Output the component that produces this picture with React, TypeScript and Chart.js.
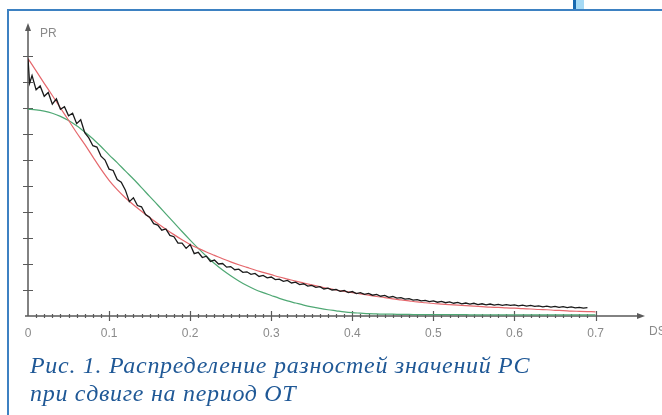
import React, { useEffect, useRef } from "react";
import { Chart, registerables } from "chart.js";

Chart.register(...registerables);

// ---- data ----
const CURVE_X = [
  0, 0.01, 0.02, 0.03, 0.04, 0.05, 0.06, 0.07, 0.08, 0.09,
  0.1, 0.11, 0.12, 0.13, 0.14, 0.15, 0.16, 0.17, 0.18, 0.19,
  0.2, 0.21, 0.22, 0.23, 0.24, 0.25, 0.26, 0.27, 0.28, 0.29,
  0.3, 0.31, 0.32, 0.33, 0.34, 0.35, 0.36, 0.37, 0.38, 0.39,
  0.4, 0.41, 0.42, 0.43, 0.44, 0.45, 0.46, 0.47, 0.48, 0.49,
  0.5, 0.51, 0.52, 0.53, 0.54, 0.55, 0.56, 0.57, 0.58, 0.59,
  0.6, 0.61, 0.62, 0.63, 0.64, 0.65, 0.66, 0.67, 0.68, 0.69, 0.7,
];

const RED_FIT = [
  9.9, 9.43, 8.95, 8.48, 8.0, 7.53, 7.05, 6.6, 6.12, 5.65,
  5.22, 4.86, 4.55, 4.28, 4.03, 3.79, 3.56, 3.34, 3.13, 2.93,
  2.75, 2.6, 2.46, 2.33, 2.2, 2.08, 1.97, 1.87, 1.77, 1.68,
  1.59, 1.5, 1.42, 1.34, 1.27, 1.2, 1.13, 1.06, 1.0, 0.95,
  0.9, 0.85, 0.8, 0.75, 0.71, 0.66, 0.62, 0.58, 0.54, 0.51,
  0.48, 0.46, 0.44, 0.42, 0.4, 0.38, 0.36, 0.34, 0.33, 0.31,
  0.3, 0.28, 0.27, 0.25, 0.24, 0.22, 0.21, 0.19, 0.18, 0.17, 0.16,
];

const GREEN_FIT = [
  7.95, 7.93, 7.88, 7.8, 7.68, 7.52, 7.32, 7.08, 6.82, 6.52,
  6.2, 5.9, 5.58, 5.27, 4.94, 4.6, 4.27, 3.93, 3.59, 3.25,
  2.92, 2.6, 2.3, 2.02, 1.77, 1.55, 1.35, 1.17, 1.02, 0.9,
  0.79, 0.68, 0.58, 0.5, 0.42, 0.35, 0.29, 0.24, 0.2, 0.16,
  0.13, 0.11, 0.09, 0.08, 0.07, 0.07, 0.06, 0.06, 0.05, 0.05,
  0.05, 0.05, 0.05, 0.05, 0.05, 0.04, 0.04, 0.04, 0.04, 0.04,
  0.04, 0.04, 0.04, 0.04, 0.04, 0.04, 0.04, 0.04, 0.04, 0.04, 0.04,
];

const MEASURED_X = [
  0, 0.002, 0.005, 0.01, 0.015, 0.02, 0.025, 0.03, 0.035, 0.04, 0.045,
  0.05, 0.055, 0.06, 0.065, 0.07, 0.075, 0.08, 0.085, 0.09, 0.095,
  0.1, 0.105, 0.11, 0.115, 0.12, 0.125, 0.13, 0.135, 0.14, 0.145,
  0.15, 0.155, 0.16, 0.165, 0.17, 0.175, 0.18, 0.185, 0.19, 0.195,
  0.2, 0.205, 0.21, 0.215, 0.22, 0.225, 0.23, 0.235, 0.24, 0.245,
  0.25, 0.255, 0.26, 0.265, 0.27, 0.275, 0.28, 0.285, 0.29, 0.295,
  0.3, 0.305, 0.31, 0.315, 0.32, 0.325, 0.33, 0.335, 0.34, 0.345,
  0.35, 0.355, 0.36, 0.365, 0.37, 0.375, 0.38, 0.385, 0.39, 0.395,
  0.4, 0.405, 0.41, 0.415, 0.42, 0.425, 0.43, 0.435, 0.44, 0.445,
  0.45, 0.455, 0.46, 0.465, 0.47, 0.475, 0.48, 0.485, 0.49, 0.495,
  0.5, 0.505, 0.51, 0.515, 0.52, 0.525, 0.53, 0.535, 0.54, 0.545,
  0.55, 0.555, 0.56, 0.565, 0.57, 0.575, 0.58, 0.585, 0.59, 0.595,
  0.6, 0.605, 0.61, 0.615, 0.62, 0.625, 0.63, 0.635, 0.64, 0.645,
  0.65, 0.655, 0.66, 0.665, 0.67, 0.675, 0.68, 0.685, 0.69,
];

const MEASURED_Y = [
  9.9, 8.95, 9.25, 8.7, 8.85, 8.45, 8.6, 8.15, 8.35, 7.95, 8.05,
  7.7, 7.8, 7.4, 7.55, 7.05, 6.85, 6.55, 6.5, 6.15, 6.0,
  5.65, 5.6, 5.25, 5.15, 4.85, 4.4, 4.55, 4.25, 4.2, 3.9,
  3.8, 3.55, 3.5, 3.3, 3.35, 3.1, 3.05, 2.8, 2.8, 2.6,
  2.75, 2.4, 2.45, 2.25, 2.3, 2.1, 2.15, 2.0, 2.02, 1.88,
  1.9, 1.78, 1.8, 1.68, 1.7, 1.6, 1.64, 1.52, 1.56, 1.47,
  1.5, 1.4, 1.42, 1.33, 1.37, 1.27, 1.3, 1.21, 1.24, 1.15,
  1.18, 1.1, 1.13, 1.04, 1.07, 1.0, 1.02, 0.95, 0.98, 0.9,
  0.94, 0.86, 0.9, 0.83, 0.87, 0.8, 0.83, 0.76, 0.79, 0.72,
  0.75, 0.69, 0.71, 0.65, 0.67, 0.61, 0.63, 0.58, 0.6, 0.55,
  0.58, 0.53, 0.56, 0.51, 0.54, 0.49, 0.52, 0.47, 0.5, 0.46,
  0.49, 0.44, 0.47, 0.43, 0.46, 0.42, 0.45, 0.41, 0.44, 0.41,
  0.43, 0.39, 0.42, 0.38, 0.41, 0.37, 0.39, 0.35, 0.38, 0.34,
  0.37, 0.33, 0.36, 0.32, 0.35, 0.31, 0.33, 0.3, 0.32,
];

const X_TICKS = [0, 0.1, 0.2, 0.3, 0.4, 0.5, 0.6, 0.7];
const X_TICK_LABELS = ["0", "0.1", "0.2", "0.3", "0.4", "0.5", "0.6", "0.7"];
const Y_TICKS = [0, 1, 2, 3, 4, 5, 6, 7, 8, 9, 10];
const X_AXIS_NAME = "DS";
const Y_AXIS_NAME = "PR";
const CAPTION_1 = "Рис. 1. Распределение разностей значений РС";
const CAPTION_2 = "при сдвиге на период ОТ";

const AXIS_COLOR = "#5a5a5a";
const LABEL_COLOR = "#8a8a8a";

const axisPlugin = {
  id: "arrowAxes",
  beforeDatasetsDraw(chart: any) {
    const { ctx, chartArea } = chart;
    const xs = chart.scales.x;
    const ys = chart.scales.y;
    const x0 = xs.getPixelForValue(0);
    const y0 = ys.getPixelForValue(0);
    const xEnd = chartArea.right;
    const yTop = chartArea.top;
    ctx.save();
    ctx.strokeStyle = AXIS_COLOR;
    ctx.fillStyle = AXIS_COLOR;
    ctx.lineWidth = 1.5;
    ctx.beginPath();
    ctx.moveTo(x0 - 3, y0);
    ctx.lineTo(xEnd - 6, y0);
    ctx.moveTo(x0, y0);
    ctx.lineTo(x0, yTop + 6);
    ctx.stroke();
    // arrow heads
    ctx.beginPath();
    ctx.moveTo(xEnd, y0);
    ctx.lineTo(xEnd - 8, y0 - 3);
    ctx.lineTo(xEnd - 8, y0 + 3);
    ctx.closePath();
    ctx.fill();
    ctx.beginPath();
    ctx.moveTo(x0, yTop);
    ctx.lineTo(x0 - 3, yTop + 8);
    ctx.lineTo(x0 + 3, yTop + 8);
    ctx.closePath();
    ctx.fill();
    // y ticks
    ctx.lineWidth = 1.2;
    ctx.beginPath();
    for (const v of Y_TICKS) {
      if (v === 0) continue;
      const py = Math.round(ys.getPixelForValue(v)) + 0.5;
      ctx.moveTo(x0 - 5, py);
      ctx.lineTo(x0 + 5, py);
    }
    ctx.stroke();
    // x ticks: major and minor
    ctx.beginPath();
    for (let i = 0; i < X_TICKS.length; i++) {
      const major = X_TICKS[i];
      const px = Math.round(xs.getPixelForValue(major)) + 0.5;
      if (major !== 0) {
        ctx.moveTo(px, y0 - 5);
        ctx.lineTo(px, y0 + 5);
      }
      if (i < X_TICKS.length - 1) {
        const next = X_TICKS[i + 1];
        for (let k = 1; k < 10; k++) {
          const v = major + ((next - major) * k) / 10;
          const mx = Math.round(xs.getPixelForValue(v)) + 0.5;
          ctx.moveTo(mx, y0 - 2);
          ctx.lineTo(mx, y0 + 2);
        }
      }
    }
    ctx.stroke();
    ctx.restore();
  },
  afterDraw(chart: any) {
    const { ctx, chartArea } = chart;
    const xs = chart.scales.x;
    const ys = chart.scales.y;
    const x0 = xs.getPixelForValue(0);
    const y0 = ys.getPixelForValue(0);
    ctx.save();
    ctx.fillStyle = LABEL_COLOR;
    ctx.font = "12px 'Liberation Sans', Arial, sans-serif";
    ctx.textBaseline = "middle";
    ctx.textAlign = "left";
    ctx.fillText(Y_AXIS_NAME, x0 + 12, chartArea.top + 11);
    ctx.fillText(X_AXIS_NAME, chartArea.right + 4, y0 + 16);
    ctx.restore();
  },
};

export default function App() {
  const ref = useRef<HTMLCanvasElement | null>(null);

  useEffect(() => {
    if (!ref.current) return;
    const chart = new Chart(ref.current, {
      type: "line",
      data: {
        datasets: [
          {
            label: "measured",
            data: MEASURED_X.map((x, i) => ({ x, y: MEASURED_Y[i] })),
            borderColor: "#1a1a1a",
            borderWidth: 1.3,
            pointRadius: 0,
            tension: 0,
          },
          {
            label: "red fit",
            data: CURVE_X.map((x, i) => ({ x, y: RED_FIT[i] })),
            borderColor: "#e5676c",
            borderWidth: 1.2,
            pointRadius: 0,
            cubicInterpolationMode: "monotone",
          },
          {
            label: "green fit",
            data: CURVE_X.map((x, i) => ({ x, y: GREEN_FIT[i] })),
            borderColor: "#4fa874",
            borderWidth: 1.2,
            pointRadius: 0,
            cubicInterpolationMode: "monotone",
          },
        ],
      },
      options: {
        responsive: false,
        animation: false,
        devicePixelRatio: 1,
        layout: { padding: { left: 28, top: 23, right: 17, bottom: 0 } },
        plugins: { legend: { display: false }, tooltip: { enabled: false } },
        scales: {
          x: {
            type: "linear",
            min: 0,
            max: 0.761,
            grid: { display: false, drawTicks: false },
            border: { display: false },
            afterFit: (s: any) => {
              s.height = 99;
            },
            afterBuildTicks: (s: any) => {
              s.ticks = X_TICKS.map((v) => ({ value: v }));
            },
            ticks: {
              autoSkip: false,
              maxRotation: 0,
              padding: 10,
              color: LABEL_COLOR,
              font: { family: "'Liberation Sans', Arial, sans-serif", size: 12 },
              callback: (v: any) => {
                const i = X_TICKS.indexOf(Number(v));
                return i >= 0 ? X_TICK_LABELS[i] : "";
              },
            },
          },
          y: {
            type: "linear",
            min: 0,
            max: 11.27,
            grid: { display: false, drawTicks: false },
            border: { display: false },
            ticks: { display: false },
            afterFit: (s: any) => {
              s.width = 0;
            },
            afterBuildTicks: (s: any) => {
              s.ticks = Y_TICKS.map((v) => ({ value: v }));
            },
          },
        },
      },
      plugins: [axisPlugin],
    });
    return () => chart.destroy();
  }, []);

  return (
    <div
      style={{
        position: "fixed",
        left: 0,
        top: 0,
        width: 662,
        height: 415,
        background: "#ffffff",
        overflow: "hidden",
      }}
    >
      <canvas
        ref={ref}
        width={662}
        height={415}
        style={{ position: "absolute", left: 0, top: 0, width: 662, height: 415 }}
      />
      <div style={{ position: "absolute", left: 7, top: 9, width: 655, height: 2, background: "#3d81c2" }} />
      <div style={{ position: "absolute", left: 7, top: 9, width: 2, height: 406, background: "#3d81c2" }} />
      <div style={{ position: "absolute", left: 573, top: 0, width: 3, height: 9, background: "#1769b0" }} />
      <div style={{ position: "absolute", left: 576, top: 0, width: 8, height: 9, background: "#a6daf5" }} />
      <div
        style={{
          position: "absolute",
          left: 30,
          top: 351,
          fontFamily: "'Liberation Serif', 'Times New Roman', serif",
          fontStyle: "italic",
          fontSize: 24,
          letterSpacing: "0.7px",
          lineHeight: "28px",
          color: "#1f5896",
          whiteSpace: "nowrap",
        }}
      >
        <div>{CAPTION_1}</div>
        <div>{CAPTION_2}</div>
      </div>
    </div>
  );
}
